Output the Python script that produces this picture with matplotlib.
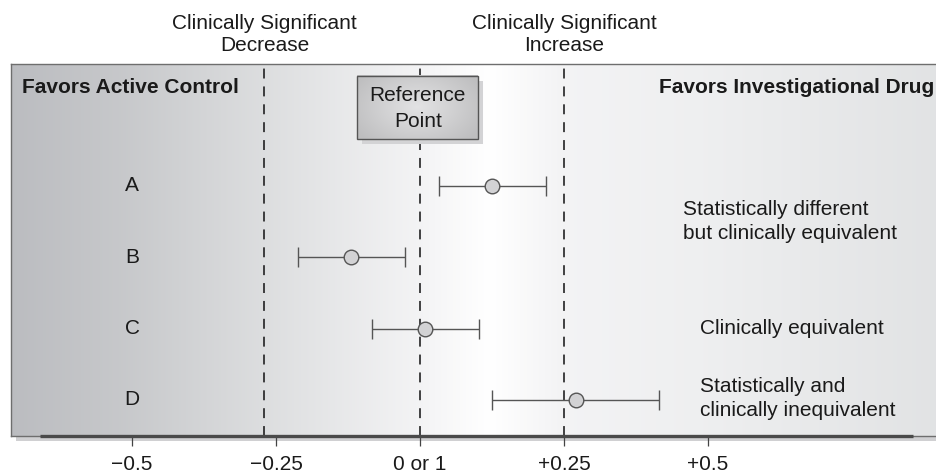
import numpy as np
import matplotlib
matplotlib.use("Agg")
import matplotlib.pyplot as plt
from matplotlib.patches import Rectangle
import matplotlib.transforms as mtransforms

plt.rcParams['font.family'] = ['Liberation Sans', 'DejaVu Sans']

# ---- data ----
categories = ["A", "B", "C", "D"]
estimates = [0.125, -0.12, 0.009, 0.27]
ci_low = [0.033, -0.212, -0.083, 0.125]
ci_high = [0.219, -0.026, 0.102, 0.415]
margin_low = -0.27
reference = 0.0
margin_high = 0.25
tick_values = [-0.5, -0.25, 0.0, 0.25, 0.5]
tick_labels = ["\u22120.5", "\u22120.25", "0 or 1", "+0.25", "+0.5"]
row_notes = [(0.5, "Statistically different\nbut clinically equivalent", 0.457),
             (2.0, "Clinically equivalent", 0.486),
             (2.98, "Statistically and\nclinically inequivalent", 0.486)]

W, H, DPI = 937, 473, 100
fig = plt.figure(figsize=(W / DPI, H / DPI), dpi=DPI)
ax = fig.add_axes([11 / W, (H - 436) / H, 926 / W, 372 / H])

xmin, xmax = -0.7101, 0.8976
ymin, ymax = 3.505, -1.710
ax.set_xlim(xmin, xmax)
ax.set_ylim(ymin, ymax)

# background gradient
px = np.linspace(11, 937, 600)
stops_x = [11, 120, 264, 420, 490, 560, 700, 937]
stops_c = np.array([[0.735, 0.74, 0.755],
                    [0.78, 0.785, 0.795],
                    [0.865, 0.87, 0.875],
                    [0.955, 0.955, 0.96],
                    [1.0, 1.0, 1.0],
                    [0.955, 0.955, 0.96],
                    [0.935, 0.938, 0.942],
                    [0.885, 0.89, 0.895]])
grad = np.stack([np.interp(px, stops_x, stops_c[:, k]) for k in range(3)], axis=-1)
grad = np.repeat(grad[np.newaxis, :, :], 4, axis=0)
ax.imshow(grad, extent=[xmin, xmax, ymin, ymax], aspect='auto', zorder=0,
          interpolation='bilinear')

# dashed lines
for xv in [margin_low, reference, margin_high]:
    ax.axvline(xv, color='#111111', lw=1.1, linestyle=(0, (6.5, 5.2)), zorder=2)

# reference point box
bx0, bx1 = -0.109, 0.101
by0, by1 = -1.543, -0.659
dx, dy = 5 / 576, 5 / 71.33
ax.add_patch(Rectangle((bx0 + dx, by0 + dy), bx1 - bx0, by1 - by0,
                       facecolor='#d3d3d5', edgecolor='none', zorder=3))
gx = np.linspace(-1, 1, 80)
gy = np.linspace(-1, 1, 40)
GX, GY = np.meshgrid(gx, gy)
r = np.clip(np.sqrt(GX ** 2 + (GY * 0.8) ** 2), 0, 1.2)
lum = 0.89 - 0.12 * r
box_img = np.stack([lum, lum, lum + 0.005], axis=-1)
ax.imshow(np.clip(box_img, 0, 1), extent=[bx0, bx1, by1, by0], aspect='auto',
          zorder=4, interpolation='bilinear')
ax.add_patch(Rectangle((bx0, by0), bx1 - bx0, by1 - by0, facecolor='none',
                       edgecolor='#555555', lw=1.0, zorder=5))
ax.text((bx0 + bx1) / 2, (by0 + by1) / 2 + 0.02, "Reference\nPoint", ha='center',
        va='center', fontsize=15, color='#1a1a1a', zorder=6, linespacing=1.45)

# estimates
ypos = np.arange(len(categories))
ax.errorbar(estimates, ypos,
            xerr=[np.array(estimates) - np.array(ci_low), np.array(ci_high) - np.array(estimates)],
            fmt='o', color='#555555', ecolor='#555555', elinewidth=1.0, capsize=7.2,
            capthick=1.0, markersize=10.5, markerfacecolor='#d2d2d4',
            markeredgecolor='#555555', markeredgewidth=1.0, zorder=7)

for i, c in enumerate(categories):
    ax.text(-0.5, i, c, ha='center', va='center', fontsize=15, color='#1a1a1a')

for yv, txt, xv in row_notes:
    ax.text(xv, yv, txt, ha='left', va='center', fontsize=15, color='#1a1a1a',
            linespacing=1.35)

ax.text(0.012, 0.937, "Favors Active Control", transform=ax.transAxes,
        ha='left', va='center', fontsize=15, fontweight='bold', color='#1a1a1a')
ax.text(0.9965, 0.937, "Favors Investigational Drug", transform=ax.transAxes,
        ha='right', va='center', fontsize=15, fontweight='bold', color='#1a1a1a')

trans = mtransforms.blended_transform_factory(ax.transData, ax.transAxes)
ax.text(margin_low, 1.080, "Clinically Significant\nDecrease", transform=trans,
        ha='center', va='center', fontsize=15, color='#1a1a1a', clip_on=False,
        linespacing=1.22)
ax.text(margin_high, 1.080, "Clinically Significant\nIncrease", transform=trans,
        ha='center', va='center', fontsize=15, color='#1a1a1a', clip_on=False,
        linespacing=1.22)

# spines / axis
for s in ['top', 'left', 'bottom']:
    ax.spines[s].set_color('#6e6e6e')
    ax.spines[s].set_linewidth(1.0)
ax.spines['right'].set_visible(False)

# shadow under panel
shadow_y = 5 / 372
ax.add_patch(Rectangle((5 / 926, -shadow_y), 1.0, shadow_y,
                       transform=ax.transAxes, facecolor='#d0d0d2',
                       edgecolor='none', clip_on=False, zorder=1))
# thick axis line
ax.plot([-0.66, 0.856], [0, 0], transform=trans, color='#4a4a4a', lw=2.4,
        clip_on=False, zorder=8, solid_capstyle='butt')

ax.set_xticks(tick_values)
ax.set_xticklabels(tick_labels)
ax.set_yticks([])
ax.tick_params(axis='x', direction='out', length=7.5, width=0.9, color='#444444',
               pad=6, labelsize=15, labelcolor='#1a1a1a')

fig.savefig("out.png", dpi=DPI, facecolor='white')
